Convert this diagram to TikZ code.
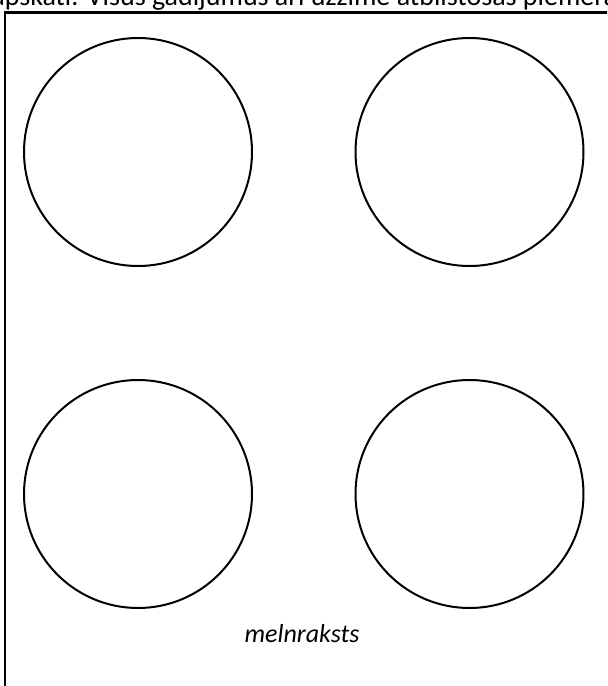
\documentclass[tikz,border=0pt]{standalone}
\usepackage{fontspec}
\setmainfont{Carlito}
\usepackage{tikz}
\usetikzlibrary{positioning}

\begin{document}
\begin{tikzpicture}[
    x=0.5pt, y=-0.5pt,
    font=\fontsize{14}{16}\selectfont,
    ring/.style={circle, draw, line width=1pt, minimum size=114pt, inner sep=0pt},
    frame/.style={draw, line width=1.2pt},
]
    \useasboundingbox (0,0) rectangle (607,686);
    \clip (0,0) rectangle (607,686);

    % Cut-off line of text above the box
    \node[anchor=base west, inner sep=0pt] (intro) at (-9,5.5)
        {apskati. Visus gadījumus arī uzzīmē atbilstošās piemērā};

    % Box
    \draw[frame] (5,12.5) rectangle (640,720);

    % Circles
    \node[ring] (c1) at (138,152) {};
    \node[ring] (c2) at (469.5,152) {};
    \node[ring] (c3) at (138,494) {};
    \node[ring] (c4) at (469.5,494) {};

    \node[anchor=base, inner sep=0pt, font=\fontsize{13}{15}\selectfont\itshape] (draft) at (302,642) {melnraksts};
\end{tikzpicture}
\end{document}
